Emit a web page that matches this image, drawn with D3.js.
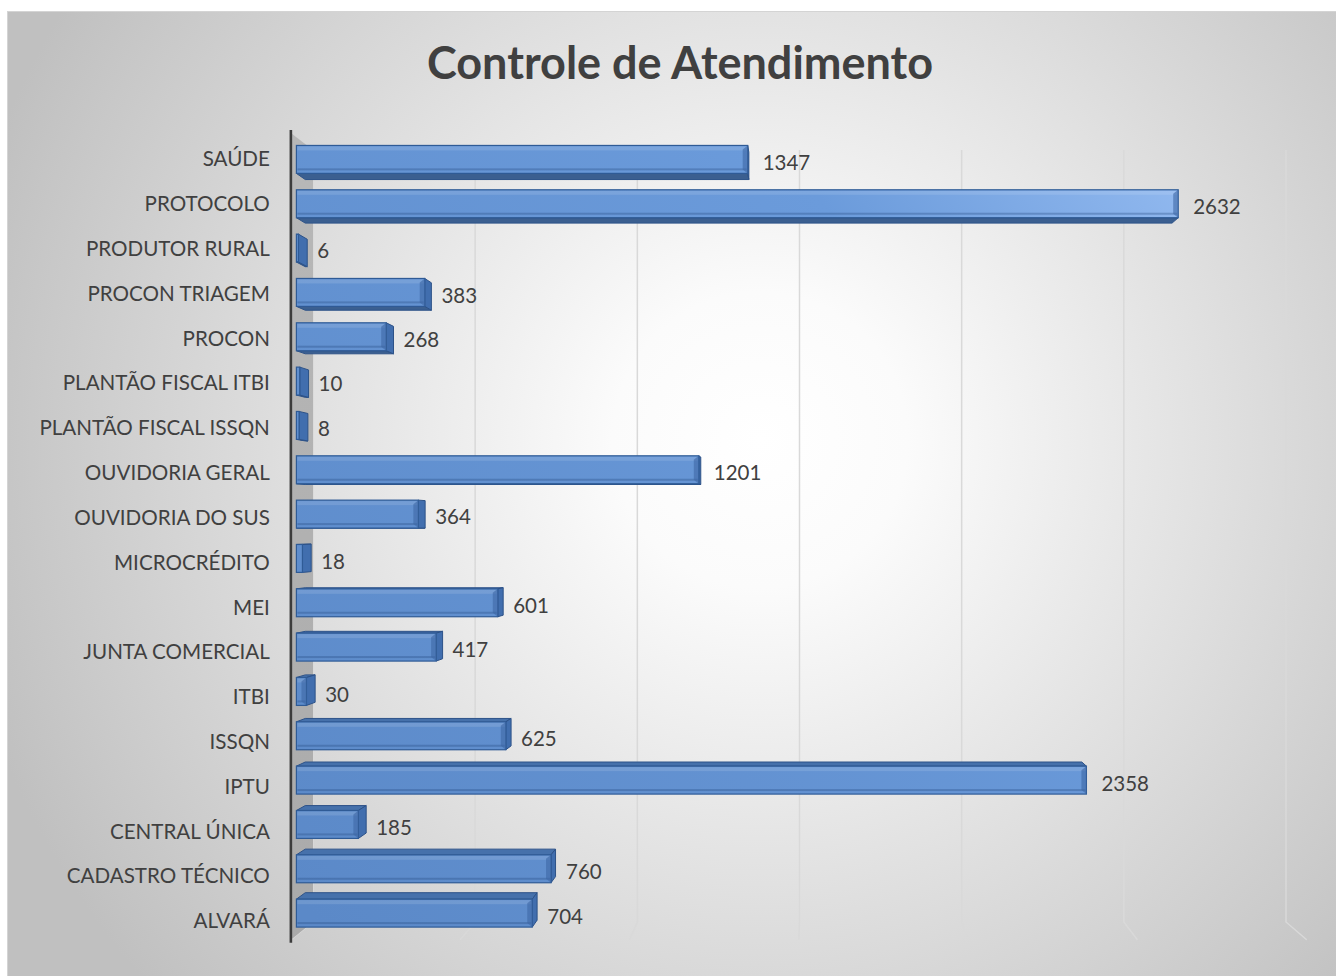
<!DOCTYPE html>
<html>
<head>
<meta charset="utf-8">
<script src="https://cdn.jsdelivr.net/npm/d3@7"></script>
<style>
body{margin:0;background:#fff;}
text{font-family:Lato,"Open Sans",sans-serif;fill:#404040;}
</style>
</head>
<body>
<script>
// dados do grafico
var categorias=["SAÚDE","PROTOCOLO","PRODUTOR RURAL","PROCON TRIAGEM","PROCON","PLANTÃO FISCAL ITBI","PLANTÃO FISCAL ISSQN","OUVIDORIA GERAL","OUVIDORIA DO SUS","MICROCRÉDITO","MEI","JUNTA COMERCIAL","ITBI","ISSQN","IPTU","CENTRAL ÚNICA","CADASTRO TÉCNICO","ALVARÁ"];
var valores=[1347,2632,6,383,268,10,8,1201,364,18,601,417,30,625,2358,185,760,704];
var ticks=[0,500,1000,1500,2000,2500,3000];
var titulo="Controle de Atendimento";

var W=1336,H=976;
var svg=d3.select("body").append("svg")
.attr("width",W)
.attr("height",H);

var defs=svg.append("defs");
var rg=defs.append("radialGradient").attr("id","fundo")
.attr("gradientUnits","userSpaceOnUse")
.attr("cx",760).attr("cy",440).attr("r",820);
rg.append("stop").attr("offset","0").attr("stop-color","#ffffff");
rg.append("stop").attr("offset","0.18").attr("stop-color","#fbfbfb");
rg.append("stop").attr("offset","1").attr("stop-color","#c0c0c0");

var bg=defs.append("linearGradient").attr("id","barra")
.attr("gradientUnits","userSpaceOnUse")
.attr("x1",300).attr("y1",900).attr("x2",1180).attr("y2",200);
bg.append("stop").attr("offset","0").attr("stop-color","#5b89c8");
bg.append("stop").attr("offset","0.75").attr("stop-color","#6b9bdb");
bg.append("stop").attr("offset","1").attr("stop-color","#8fb7ee");

var wg=defs.append("linearGradient").attr("id","parede")
.attr("x1",0).attr("y1",0).attr("x2",0).attr("y2",1);
wg.append("stop").attr("offset","0").attr("stop-color","#b8b8b8");
wg.append("stop").attr("offset","1").attr("stop-color","#aaaaaa");

// area do grafico
svg.append("rect")
.attr("x",7.5).attr("y",11.5)
.attr("width",W).attr("height",H)
.attr("fill","url(#fundo)")
.attr("stroke","#d4d4d4");

// escalas no plano do fundo
var x=d3.scaleLinear().domain([0,3000]).range([313,1286]);
var y=d3.scaleBand().domain(categorias).range([150,922]).paddingInner(0.37).paddingOuter(0.185);

// perspectiva
var cx=816,cy=528,kx=0.044,ky=0.045;
function P(px,py,t){
	return [cx+(px-cx)*(1+kx*t),cy+(py-cy)*(1+ky*t)];
}
var t0=0.35,t1=0.75;
var yTop=y.range()[0],yBot=y.range()[1];

// linhas de grade
svg.selectAll("path.grade").data(ticks).enter().append("path")
.attr("class","grade")
.attr("d",function(d){
	return "M"+P(x(d),yTop,0)+"L"+P(x(d),yBot,0)+"L"+P(x(d),yBot,1);
})
.attr("fill","none")
.attr("stroke","#d9d9d9")
.attr("stroke-width",1.5);

// parede lateral
svg.append("polygon")
.attr("points",[P(x(0),yTop,0),P(x(0),yTop,1),P(x(0),yBot,1),P(x(0),yBot,0)].join(" "))
.attr("fill","url(#parede)");

svg.append("line")
.attr("x1",P(x(0),yTop,1)[0]).attr("y1",P(x(0),yTop,1)[1]-3)
.attr("x2",P(x(0),yBot,1)[0]).attr("y2",P(x(0),yBot,1)[1]+3)
.attr("stroke","#3c3c3c")
.attr("stroke-width",2.6);

// barras 3D
var dados=categorias.map(function(c,i){return {cat:c,v:valores[i]};});
var g=svg.selectAll("g.barra").data(dados).enter().append("g").attr("class","barra");

g.each(function(d){
	var s=d3.select(this);
	var xa=x(0),xb=x(d.v),ya=y(d.cat),yb=y(d.cat)+y.bandwidth();
	var yc=(ya+yb)/2;
	// face de cima ou de baixo
	if(yc<cy){
		s.append("polygon")
		.attr("points",[P(xa,yb,t1),P(xb,yb,t1),P(xb,yb,t0),P(xa,yb,t0)].join(" "))
		.attr("fill","#3b5f90").attr("stroke","#2d5288").attr("stroke-width",1).attr("stroke-linejoin","round");
	}else{
		s.append("polygon")
		.attr("points",[P(xa,ya,t1),P(xb,ya,t1),P(xb,ya,t0),P(xa,ya,t0)].join(" "))
		.attr("fill","#4671ab").attr("stroke","#2d5288").attr("stroke-width",1).attr("stroke-linejoin","round");
	}
	// face da ponta
	if(P(xb,ya,t1)[0]<cx){
		s.append("polygon")
		.attr("points",[P(xb,ya,t1),P(xb,ya,t0),P(xb,yb,t0),P(xb,yb,t1)].join(" "))
		.attr("fill","#416eae").attr("stroke","#2d5288").attr("stroke-width",1).attr("stroke-linejoin","round");
	}
	// face da frente
	var f0=P(xa,ya,t1),f1=P(xb,yb,t1);
	s.append("rect")
	.attr("x",f0[0]).attr("y",f0[1])
	.attr("width",Math.max(f1[0]-f0[0],1)).attr("height",f1[1]-f0[1])
	.attr("fill","url(#barra)")
	.attr("stroke","#2f5b96").attr("stroke-width",1.2);
	// brilho do chanfro
	if(f1[0]-f0[0]>10){
		s.append("rect")
		.attr("x",f0[0]+1).attr("y",f0[1]+1)
		.attr("width",f1[0]-f0[0]-2).attr("height",4)
		.attr("fill","#ffffff").attr("opacity",0.12);
		s.append("rect")
		.attr("x",f0[0]+1).attr("y",f1[1]-5)
		.attr("width",f1[0]-f0[0]-2).attr("height",2)
		.attr("fill","#284e85").attr("opacity",0.35);
		s.append("polygon")
		.attr("points",[[f1[0]-5,f0[1]+4],[f1[0],f0[1]],[f1[0],f1[1]],[f1[0]-5,f1[1]-4]].join(" "))
		.attr("fill","#3d68a5").attr("opacity",0.6);
	}
	// rotulo do valor
	var xr=Math.max(P(xb,ya,t1)[0]+15,P(xb,ya,t0)[0]+10);
	s.append("text")
	.attr("x",xr).attr("y",(f0[1]+f1[1])/2+3)
	.attr("dy","0.36em")
	.attr("font-size",20.5)
	.text(d.v);
});

// rotulos das categorias no plano da frente
svg.selectAll("text.cat").data(categorias).enter().append("text")
.attr("class","cat")
.attr("x",P(x(0),0,1)[0]-21)
.attr("y",function(d){return P(0,y(d)+y.bandwidth()/2,1)[1]+3.5;})
.attr("dy","0.36em")
.attr("text-anchor","end")
.attr("font-size",20.6)
.text(function(d){return d;});

// titulo
svg.append("text")
.attr("x",680).attr("y",79)
.attr("text-anchor","middle")
.attr("font-size",45)
.attr("font-weight","bold")
.text(titulo);
</script>
</body>
</html>
